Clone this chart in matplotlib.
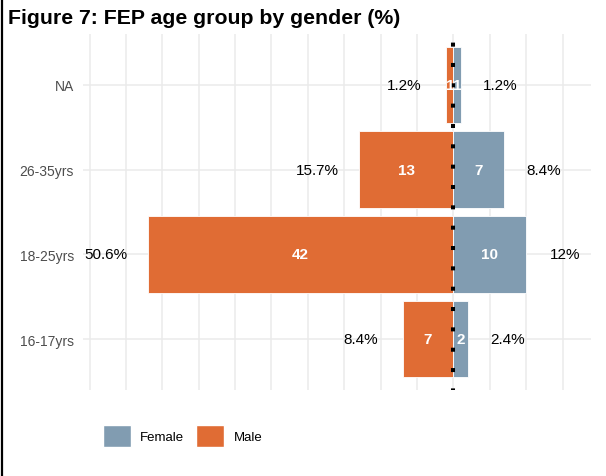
import matplotlib.pyplot as plt
from matplotlib.patches import Patch
from matplotlib.lines import Line2D

plt.rcParams['font.family'] = ['Liberation Sans', 'DejaVu Sans']

# data
ageGroups = ["16-17yrs", "18-25yrs", "26-35yrs", "NA"]
maleCounts = [7, 42, 13, 1]
femaleCounts = [2, 10, 7, 1]
malePctLabels = ["8.4%", "50.6%", "15.7%", "1.2%"]
femalePctLabels = ["2.4%", "12%", "8.4%", "1.2%"]

maleColor = "#E06C34"
femaleColor = "#819CB1"

fig = plt.figure(figsize=(6.06, 4.77), dpi=100)
ax = fig.add_axes([83 / 606, 1 - 391 / 477, (591 - 83) / 606, (391 - 35) / 477])

ypos = list(range(1, len(ageGroups) + 1))

ax.barh(ypos, [-m for m in maleCounts], height=0.9, color=maleColor,
        edgecolor="white", linewidth=0.6, zorder=2)
ax.barh(ypos, femaleCounts, height=0.9, color=femaleColor,
        edgecolor="white", linewidth=0.6, zorder=2)

# count labels inside bars
for y, m, f in zip(ypos, maleCounts, femaleCounts):
    ax.text(-m / 2, y, str(m), color="white", fontweight="bold", fontsize=11,
            ha="center", va="center", zorder=4)
    ax.text(f / 2, y, str(f), color="white", fontweight="bold", fontsize=11,
            ha="center", va="center", zorder=4)

# percentage labels outside bars
for y, m, f, mp, fp in zip(ypos, maleCounts, femaleCounts, malePctLabels, femalePctLabels):
    ax.text(-m - 5.7, y, mp, color="black", fontsize=11, ha="center", va="center", zorder=4)
    ax.text(f + 5.4, y, fp, color="black", fontsize=11, ha="center", va="center", zorder=4)

# dotted zero line
ax.axvline(0, color="black", lw=2.9, linestyle=(0.6, (1, 4.05)),
           dash_capstyle="butt", zorder=3)

ax.set_xlim(-50.9, 18.9)
ax.set_ylim(0.4, 4.6)
ax.set_xticks(range(-50, 20, 5))
ax.set_yticks(ypos)
ax.set_yticklabels(ageGroups, color="#4D4D4D", fontsize=10)
ax.tick_params(axis="x", labelbottom=False, length=0)
ax.tick_params(axis="y", length=0, pad=6.5)
ax.grid(True, color="#EBEBEB", lw=1.1, zorder=0)
ax.set_axisbelow(True)
for s in ax.spines.values():
    s.set_visible(False)

fig.text(8 / 606, 1 - 19 / 477, "Figure 7: FEP age group by gender (%)",
         fontsize=15.3, fontweight="bold", ha="left", va="center")

handles = [Patch(facecolor=femaleColor, edgecolor="white", label="Female"),
           Patch(facecolor=maleColor, edgecolor="white", label="Male")]
fig.legend(handles=handles, loc="center left", bbox_to_anchor=(102.5 / 606, 1 - 437 / 477),
           ncol=2, frameon=False, fontsize=9.5, handlelength=2.15, handleheight=2.3,
           handletextpad=0.72, columnspacing=0.87, borderpad=0, borderaxespad=0)

# left border line
fig.add_artist(Line2D([2.5 / 606, 2.5 / 606], [0, 1], color="black", lw=1.6,
                      transform=fig.transFigure))

fig.savefig("out.png", dpi=100)
